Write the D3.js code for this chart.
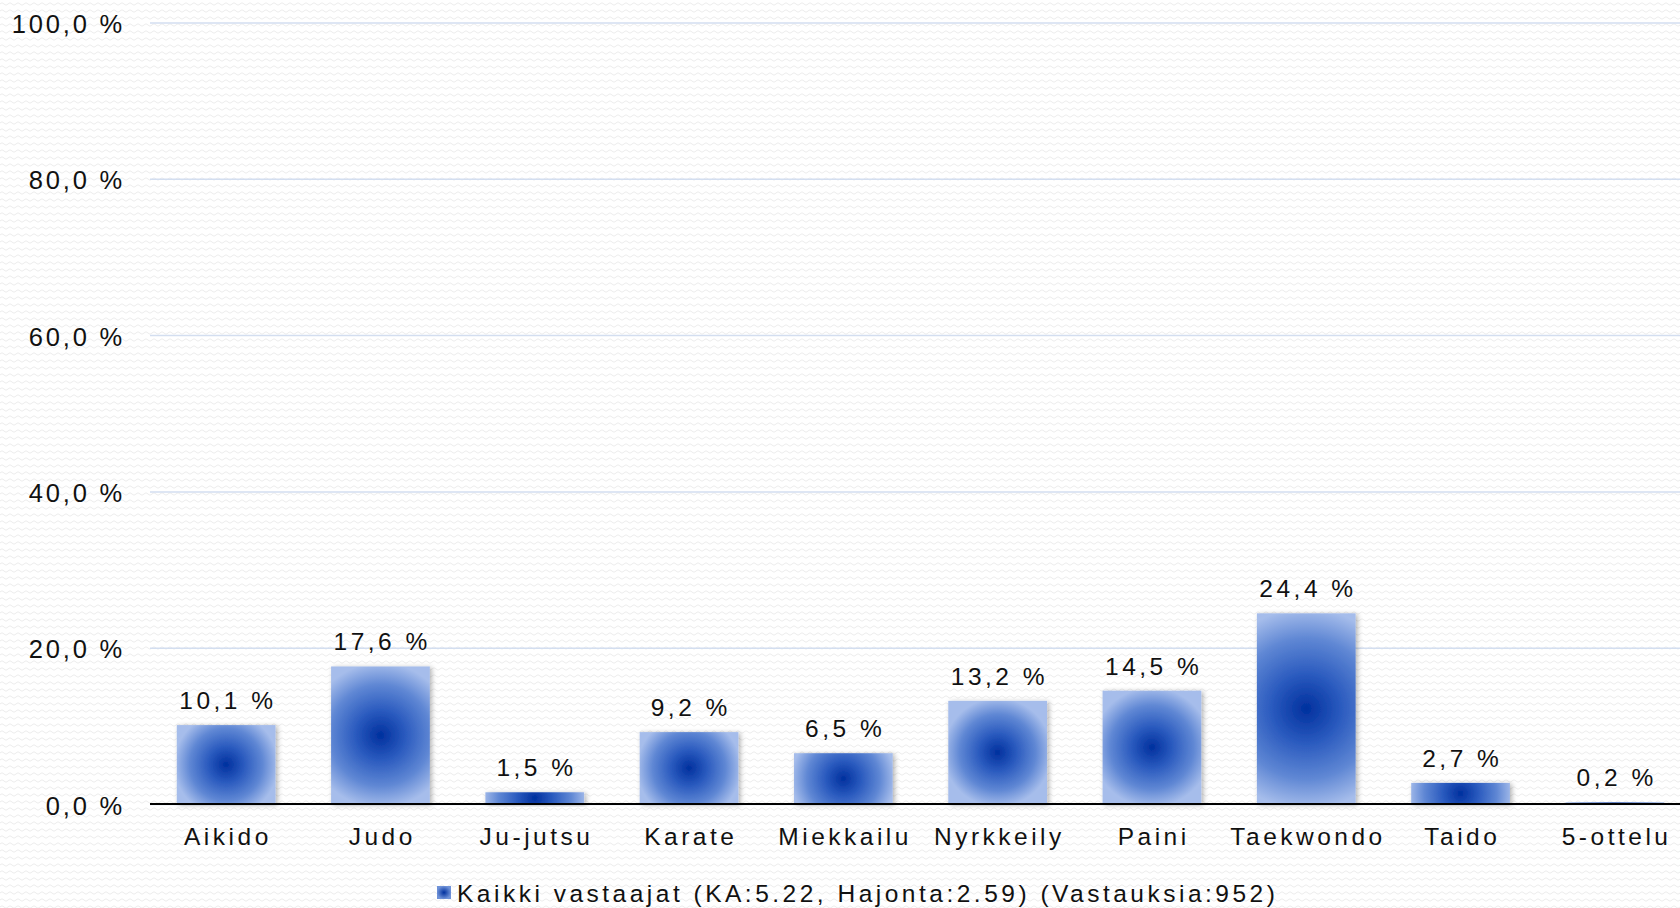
<!DOCTYPE html>
<html>
<head>
    <title>Lajit</title>
    <script src="https://d3js.org/d3.v7.min.js"></script>
    <style>
        body {
            margin: 0;
            overflow: hidden;
            background: #fff;
        }
        svg text {
            font-family: "Liberation Sans", Arial, sans-serif;
            font-size: 24.5px;
            letter-spacing: 3.5px;
            fill: #111;
        }
        .ytick text {
            font-size: 25.5px;
            letter-spacing: 2.8px;
        }
    </style>
</head>
<body>
    <div id="viz"></div>
    <script>
        // data
        const categories = ['Aikido', 'Judo', 'Ju-jutsu', 'Karate', 'Miekkailu', 'Nyrkkeily', 'Paini', 'Taekwondo', 'Taido', '5-ottelu'];
        const values = [10.1, 17.6, 1.5, 9.2, 6.5, 13.2, 14.5, 24.4, 2.7, 0.2];
        const yTicks = [0, 20, 40, 60, 80, 100];
        const legendLabel = 'Kaikki vastaajat (KA:5.22, Hajonta:2.59) (Vastauksia:952)';

        const width = 1680;
        const height = 908;

        const svg = d3.select('#viz')
            .append('svg')
            .attr('width', width)
            .attr('height', height);

        const defs = svg.append('defs');

        // faint wavy background texture
        const pat = defs.append('pattern')
            .attr('id', 'waves')
            .attr('width', 8)
            .attr('height', 7)
            .attr('patternUnits', 'userSpaceOnUse');
        pat.append('path')
            .attr('d', 'M0,4 Q2,1.5 4,4 T8,4')
            .attr('fill', 'none')
            .attr('stroke', '#ececec')
            .attr('stroke-width', 1);
        svg.append('rect')
            .attr('width', width)
            .attr('height', height)
            .attr('fill', 'url(#waves)');

        defs.append('filter')
            .attr('id', 'shadow')
            .attr('x', '-20%').attr('y', '-20%')
            .attr('width', '140%').attr('height', '140%')
            .append('feDropShadow')
            .attr('dx', 2).attr('dy', 1)
            .attr('stdDeviation', 2.5)
            .attr('flood-color', '#000')
            .attr('flood-opacity', 0.3);

        const x = d3.scaleBand()
            .domain(categories)
            .range([149, 1692])
            .paddingInner(0.36)
            .paddingOuter(0.18);

        const y = d3.scaleLinear()
            .domain([0, 100])
            .range([804, 22.5]);

        // grid + y labels
        const yAxis = svg.append('g')
            .attr('class', 'ytick')
            .attr('transform', 'translate(150,0)')
            .call(d3.axisLeft(y)
                .tickValues(yTicks)
                .tickSize(-(width - 150))
                .tickPadding(25)
                .tickFormat(d => d.toFixed(1).replace('.', ',') + ' %'));
        yAxis.select('.domain').remove();
        yAxis.selectAll('.tick line')
            .attr('stroke', '#d3def0')
            .attr('stroke-width', 1.5);
        yAxis.selectAll('.tick text')
            .attr('dy', 10)
            .attr('fill', '#111');
        yAxis.attr('font-size', null).attr('font-family', null);

        // per-bar radial gradients
        const grads = defs.selectAll('radialGradient.bar')
            .data(values)
            .join('radialGradient')
            .attr('class', 'bar')
            .attr('id', (d, i) => 'g' + i)
            .attr('gradientUnits', 'userSpaceOnUse')
            .attr('cx', (d, i) => x(categories[i]) + x.bandwidth() / 2)
            .attr('cy', d => (y(d) + y(0)) / 2)
            .attr('r', d => Math.max(x.bandwidth(), y(0) - y(d)) / 2 * 1.05);
        [['0', '#00309e'], ['0.35', '#2b5bbf'], ['0.7', '#5f87d4'], ['1', '#a6bdeb']].forEach(([o, c]) => {
            grads.append('stop').attr('offset', o).attr('stop-color', c);
        });

        svg.append('g')
            .selectAll('rect')
            .data(values)
            .join('rect')
            .attr('x', (d, i) => x(categories[i]))
            .attr('y', d => y(d))
            .attr('width', x.bandwidth())
            .attr('height', d => y(0) - y(d))
            .attr('fill', (d, i) => `url(#g${i})`)
            .attr('filter', 'url(#shadow)');

        // value labels
        svg.append('g')
            .selectAll('text')
            .data(values)
            .join('text')
            .attr('x', (d, i) => x(categories[i]) + x.bandwidth() / 2 + 1.75)
            .attr('y', d => y(d) - 16)
            .attr('text-anchor', 'middle')
            .text(d => d.toFixed(1).replace('.', ',') + ' %');

        // baseline
        svg.append('line')
            .attr('x1', 150).attr('x2', width)
            .attr('y1', y(0)).attr('y2', y(0))
            .attr('stroke', '#000')
            .attr('stroke-width', 2);

        // category labels
        svg.append('g')
            .selectAll('text')
            .data(categories)
            .join('text')
            .attr('x', d => x(d) + x.bandwidth() / 2 + 1.75)
            .attr('y', 844.5)
            .attr('text-anchor', 'middle')
            .text(d => d);

        // legend
        const lg = defs.append('radialGradient').attr('id', 'lg');
        lg.append('stop').attr('offset', '0').attr('stop-color', '#00309e');
        lg.append('stop').attr('offset', '1').attr('stop-color', '#6f92d8');
        svg.append('rect')
            .attr('x', 437).attr('y', 886)
            .attr('width', 14).attr('height', 13)
            .attr('fill', 'url(#lg)');
        svg.append('text')
            .attr('x', 457)
            .attr('y', 901.5)
            .text(legendLabel);
    </script>
</body>
</html>
